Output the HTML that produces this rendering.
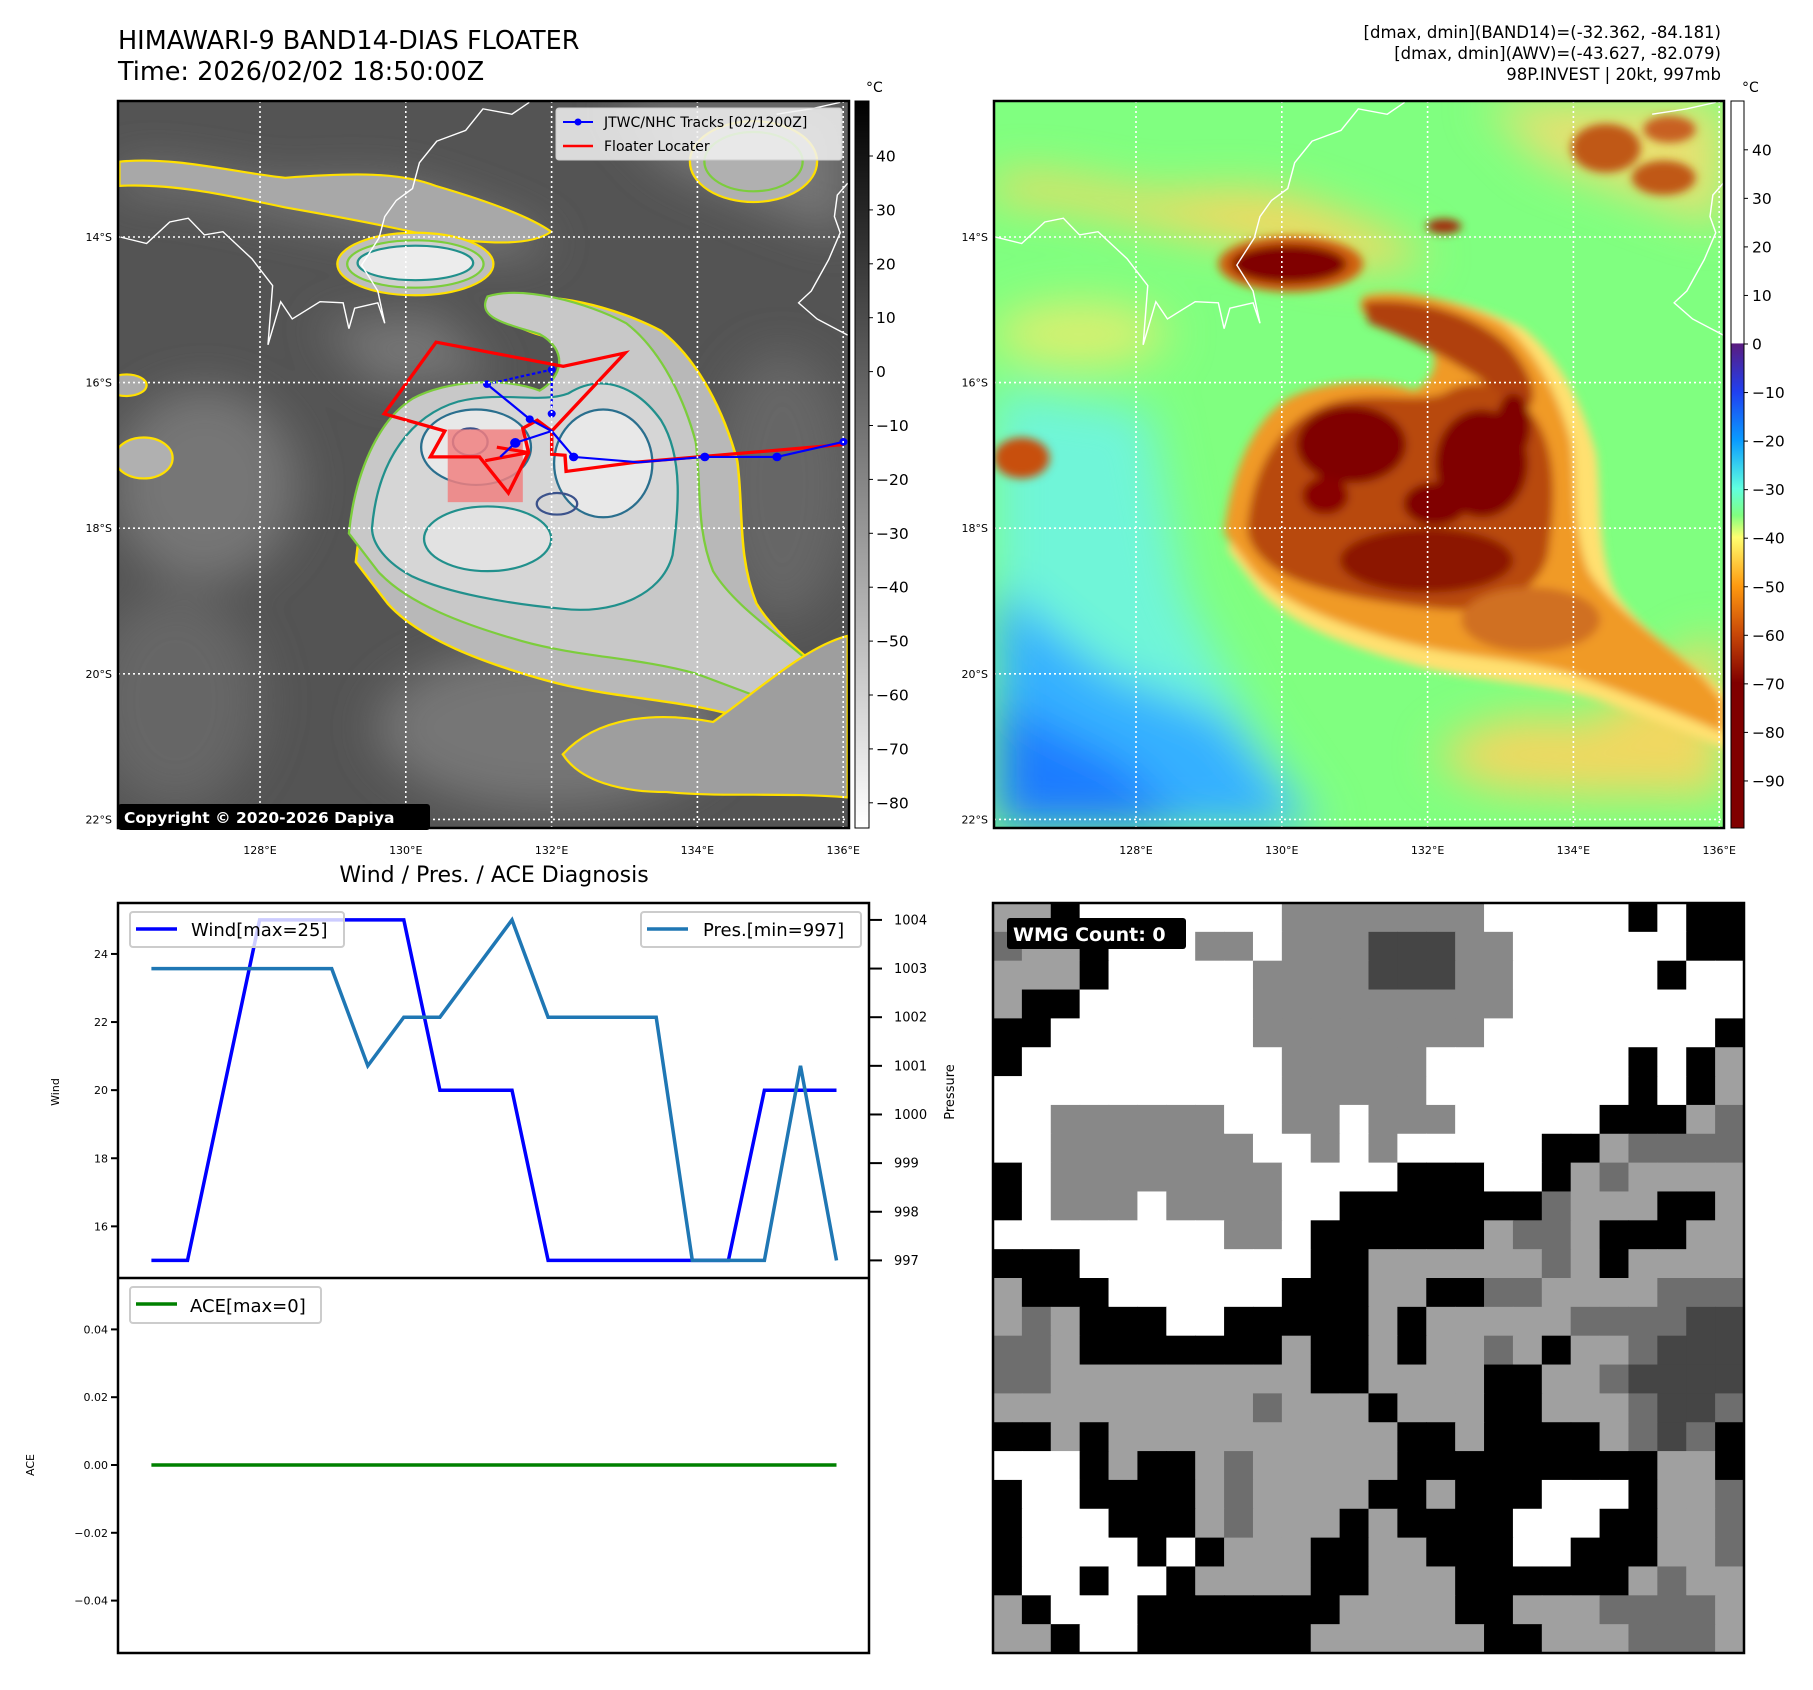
<!DOCTYPE html>
<html><head><meta charset="utf-8"><style>
html,body{margin:0;padding:0;background:#fff;}
svg{display:block;font-family:"DejaVu Sans","Liberation Sans",sans-serif;}
</style></head><body>
<svg id="root" width="1813" height="1690" viewBox="0 0 1813 1690" xmlns="http://www.w3.org/2000/svg">
<defs>
<clipPath id="c1"><rect x="118" y="101" width="731" height="727"/></clipPath>
<clipPath id="c2"><rect x="994" y="101" width="730" height="727"/></clipPath>
<filter id="b8" x="-30%" y="-30%" width="160%" height="160%"><feGaussianBlur stdDeviation="8"/></filter>
<filter id="b20" x="-30%" y="-30%" width="160%" height="160%"><feGaussianBlur stdDeviation="22"/></filter>
<filter id="b40" x="-30%" y="-30%" width="160%" height="160%"><feGaussianBlur stdDeviation="40"/></filter>
<linearGradient id="g1" x1="0" y1="0" x2="0" y2="1"><stop offset="0" stop-color="#000"/><stop offset="1" stop-color="#fff"/></linearGradient>
<linearGradient id="g2" x1="0" y1="0" x2="0" y2="1">
<stop offset="0" stop-color="#fff"/><stop offset="0.333" stop-color="#fff"/><stop offset="0.334" stop-color="#5a1c80"/>
<stop offset="0.4" stop-color="#2040f0"/><stop offset="0.467" stop-color="#0a9cff"/><stop offset="0.533" stop-color="#60ffe0"/>
<stop offset="0.57" stop-color="#80ff80"/><stop offset="0.6" stop-color="#ffff70"/><stop offset="0.667" stop-color="#ff9a10"/>
<stop offset="0.733" stop-color="#c84808"/><stop offset="0.8" stop-color="#800000"/><stop offset="1" stop-color="#800000"/></linearGradient>
<path id="env" d="M550,990 C560,880 600,780 660,740 C720,705 820,700 880,725 C920,700 930,650 880,620 C820,600 770,590 790,550 C850,530 960,560 1030,600 C1090,650 1130,740 1150,820 C1160,900 1150,980 1180,1060 C1220,1130 1300,1180 1380,1260 L1413,1300 L1413,1360 C1350,1330 1250,1290 1150,1250 C1050,1220 950,1220 850,1190 C750,1160 650,1120 600,1060 Z"/>
<path id="inner" d="M590,980 C600,850 660,770 740,745 C820,725 880,750 930,730 C990,690 1050,720 1090,780 C1130,850 1120,950 1110,1030 C1090,1110 1000,1140 920,1130 C820,1120 720,1100 660,1070 C615,1045 590,1010 590,980 Z"/>
<path id="nwband" d="M153,300 C250,290 350,320 440,330 C560,320 640,320 700,345 C780,370 860,400 900,430 C860,460 780,450 700,440 C620,420 520,400 440,385 C330,360 240,340 153,345 Z"/>
<path id="seband" d="M920,1400 C980,1330 1080,1320 1180,1340 C1260,1280 1340,1200 1413,1180 L1413,1480 C1300,1470 1200,1480 1100,1470 C1020,1470 950,1450 920,1400 Z"/>
<path id="coast" d="M155,440 L200,452 L240,412 L272,405 L300,436 L332,430 L382,480 L418,530 L410,640 L432,560 L452,592 L500,560 L540,562 L550,610 L560,572 L600,562 L612,600 L600,540 L572,492 L602,442 L612,402 L632,372 L660,350 L672,302 L702,262 L752,242 L782,202 L832,212 L862,190 M1290,212 L1350,202 L1400,190 M1413,340 L1395,362 L1390,402 L1400,432 L1380,482 L1350,540 L1328,562 L1360,592 L1413,622"/>
</defs>

<text x="118" y="49" font-size="25.5">HIMAWARI-9 BAND14-DIAS FLOATER</text>
<text x="118" y="80" font-size="25.5">Time: 2026/02/02 18:50:00Z</text>
<g font-size="16.5" text-anchor="end">
<text x="1721" y="38">[dmax, dmin](BAND14)=(-32.362, -84.181)</text>
<text x="1721" y="59">[dmax, dmin](AWV)=(-43.627, -82.079)</text>
<text x="1721" y="80">98P.INVEST | 20kt, 997mb</text>
</g>

<!-- MAP 1 -->
<g clip-path="url(#c1)">
<rect x="118" y="101" width="731" height="727" fill="#545454"/>
<g transform="translate(31,0) scale(0.578,0.5388)">
<g filter="url(#b40)" fill="#767676">
<use href="#nwband" transform="translate(0,-20) scale(1,1.1)"/>
<path d="M1000,190 L1413,190 L1413,440 L1300,400 L1100,310 Z"/>
<ellipse cx="300" cy="900" rx="160" ry="180"/>
<ellipse cx="250" cy="1300" rx="150" ry="200" fill="#666"/>
<ellipse cx="900" cy="1350" rx="300" ry="150"/>
<ellipse cx="1300" cy="900" rx="120" ry="250" fill="#666"/>
<path d="M500,600 L700,580 L800,700 L600,720 Z"/>
</g>
<use href="#nwband" fill="#a8a8a8" stroke="#ffe000" stroke-width="4"/>
<use href="#env" transform="translate(430,460) scale(1.1) translate(-430,-460)" fill="#b8b8b8" stroke="#ffe000" stroke-width="4"/>
<use href="#env" fill="#c8c8c8" stroke="#7ccd3c" stroke-width="4"/>
<use href="#seband" fill="#9e9e9e" stroke="#ffe000" stroke-width="4"/>
<use href="#inner" fill="#d6d6d6" stroke="#21908c" stroke-width="4"/>
<ellipse cx="770" cy="830" rx="95" ry="70" fill="#e8e8e8" stroke="#2a6f8e" stroke-width="4"/>
<ellipse cx="990" cy="860" rx="85" ry="100" fill="#e8e8e8" stroke="#2a6f8e" stroke-width="4"/>
<ellipse cx="790" cy="1000" rx="110" ry="60" fill="#e2e2e2" stroke="#21908c" stroke-width="4"/>
<ellipse cx="760" cy="820" rx="30" ry="25" fill="none" stroke="#3b528b" stroke-width="4"/>
<ellipse cx="910" cy="935" rx="35" ry="20" fill="none" stroke="#3b528b" stroke-width="4"/>
<ellipse cx="665" cy="490" rx="135" ry="58" fill="#bdbdbd" stroke="#ffe000" stroke-width="4"/>
<ellipse cx="665" cy="490" rx="118" ry="44" fill="#d0d0d0" stroke="#7ccd3c" stroke-width="4"/>
<ellipse cx="665" cy="488" rx="100" ry="32" fill="#ececec" stroke="#21908c" stroke-width="4"/>
<ellipse cx="1250" cy="300" rx="110" ry="75" fill="#b0b0b0" stroke="#ffe000" stroke-width="4"/>
<ellipse cx="1250" cy="300" rx="85" ry="55" fill="none" stroke="#7ccd3c" stroke-width="4"/>
<ellipse cx="195" cy="850" rx="50" ry="38" fill="#b0b0b0" stroke="#ffe000" stroke-width="4"/>
<ellipse cx="165" cy="715" rx="35" ry="20" fill="#aaa" stroke="#ffe000" stroke-width="4"/>
<use href="#coast" fill="none" stroke="#fff" stroke-width="2.5"/>
</g>
</g>
<g transform="scale(0.5777,0.5388)" fill="none">
<rect x="775" y="797" width="130" height="135" fill="#f08080" opacity="0.85"/>
<polyline points="1460,825 1100,858 980,875 978,845 955,843 955,800 930,780 905,795 915,840 880,915 830,848 745,848 770,800 665,768 755,635 975,680 1082,655 955,800" stroke="#f00" stroke-width="6"/>
<polyline points="860,830 915,840 840,855" stroke="#f00" stroke-width="6"/>
<polyline points="1460,820 1345,848 1220,848 1105,858 993,848 955,800 892,822 866,848" stroke="#00f" stroke-width="4"/>
<polyline points="843,713 917,778 955,800" stroke="#00f" stroke-width="4"/>
<polyline points="843,713 955,686 955,768" stroke="#00f" stroke-width="4" stroke-dasharray="6 4"/>
<g fill="#00f">
<circle cx="843" cy="713" r="7"/><circle cx="955" cy="686" r="7"/><circle cx="955" cy="768" r="7"/><circle cx="917" cy="778" r="7"/>
<circle cx="892" cy="822" r="9"/><circle cx="993" cy="848" r="8"/><circle cx="1220" cy="848" r="8"/><circle cx="1345" cy="848" r="8"/><circle cx="1460" cy="820" r="7"/>
</g>
</g>
<g stroke="#fff" stroke-width="1.6" stroke-dasharray="2 3" id="grid1"></g>
<rect x="118" y="101" width="731" height="727" fill="none" stroke="#000" stroke-width="2.5"/>
<g>
<rect x="556" y="108" width="286" height="52" rx="3" fill="#f2f2f2" fill-opacity="0.85" stroke="#ccc"/>
<line x1="563" y1="122" x2="593" y2="122" stroke="#00f" stroke-width="2"/><circle cx="578" cy="122" r="3.5" fill="#00f"/>
<text x="604" y="127" font-size="14">JTWC/NHC Tracks [02/1200Z]</text>
<line x1="563" y1="146" x2="593" y2="146" stroke="#f00" stroke-width="2.5"/>
<text x="604" y="151" font-size="14">Floater Locater</text>
</g>
<g>
<rect x="118" y="804" width="312" height="26" rx="3" fill="#000"/>
<text x="124" y="823" font-size="15.5" font-weight="bold" fill="#fff">Copyright © 2020-2026 Dapiya</text>
</g>
<rect x="855" y="101" width="14" height="727" fill="url(#g1)" stroke="#000" stroke-width="1"/>
<text x="866" y="92" font-size="14">°C</text>
<g id="cb1ticks" font-size="15.5"></g>

<!-- MAP 2 -->
<g clip-path="url(#c2)">
<rect x="994" y="101" width="730" height="727" fill="#80ff80"/>
<g transform="translate(906,0) scale(0.5784,0.5388)">
<g filter="url(#b40)">
<path d="M153,720 L420,760 L480,1100 L600,1350 L720,1537 L153,1537 Z" fill="#6ff5d8"/>
<path d="M153,1080 L350,1250 L550,1330 L700,1537 L153,1537 Z" fill="#35b0ff"/>
<path d="M153,1300 L380,1420 L480,1537 L153,1537 Z" fill="#1a7cff"/>
<use href="#nwband" fill="#f4d860" transform="translate(0,-20) scale(1,1.15)"/>
<path d="M1000,190 L1413,190 L1413,420 L1300,380 L1100,300 Z" fill="#e8e070"/>
<use href="#seband" fill="#f0d860"/>
<ellipse cx="300" cy="620" rx="150" ry="60" fill="#d8f070"/>
</g>
<g filter="url(#b8)">
<use href="#env" transform="translate(430,460) scale(1.06) translate(-430,-460)" fill="#ffe070"/>
<use href="#env" fill="#f09a28"/>
<use href="#inner" fill="#b84a10"/>
<path d="M790,560 C880,550 980,580 1040,640 C1090,700 1100,760 1060,760 C1000,700 900,640 800,600 Z" fill="#b04010"/>
<ellipse cx="1080" cy="1150" rx="120" ry="60" fill="#d07020"/>
<ellipse cx="900" cy="1040" rx="150" ry="60" fill="#8c1800"/>
<ellipse cx="770" cy="825" rx="95" ry="72" fill="#800000"/>
<ellipse cx="995" cy="860" rx="80" ry="100" fill="#800000"/>
<ellipse cx="1050" cy="790" rx="30" ry="60" fill="#800000"/>
<ellipse cx="915" cy="935" rx="55" ry="40" fill="#800000"/>
<ellipse cx="725" cy="920" rx="40" ry="35" fill="#880000"/>
<ellipse cx="665" cy="490" rx="125" ry="52" fill="#d06010"/>
<ellipse cx="662" cy="490" rx="100" ry="36" fill="#800000"/>
<ellipse cx="1210" cy="275" rx="60" ry="45" fill="#c05818"/>
<ellipse cx="1310" cy="330" rx="55" ry="32" fill="#c05818"/>
<ellipse cx="1320" cy="240" rx="45" ry="25" fill="#c86020"/>
<ellipse cx="930" cy="420" rx="30" ry="14" fill="#a03008"/>
<ellipse cx="200" cy="850" rx="48" ry="38" fill="#c85010"/>
</g>
<use href="#coast" fill="none" stroke="#fff" stroke-width="2.5"/>
</g>
</g>
<g stroke="#fff" stroke-width="1.6" stroke-dasharray="2 3" id="grid2"></g>
<rect x="994" y="101" width="730" height="727" fill="none" stroke="#000" stroke-width="2.5"/>
<rect x="1731" y="101" width="13" height="727" fill="url(#g2)" stroke="#000" stroke-width="1"/>
<text x="1742" y="92" font-size="14">°C</text>
<g id="cb2ticks" font-size="15.5"></g>
<g id="latlon" font-size="11"></g>

<text x="494" y="882" font-size="22" text-anchor="middle">Wind / Pres. / ACE Diagnosis</text>
<rect x="118" y="903" width="751" height="750" fill="#fff" stroke="#000" stroke-width="2.5"/>
<line x1="118" y1="1278" x2="869" y2="1278" stroke="#000" stroke-width="2.5"/>
<g id="chart"></g>
<text transform="translate(59,1092) rotate(-90)" font-size="11" text-anchor="middle">Wind</text>
<text transform="translate(954,1092) rotate(-90)" font-size="13" text-anchor="middle">Pressure</text>
<text transform="translate(34,1465) rotate(-90)" font-size="11" text-anchor="middle">ACE</text>
<g>
<rect x="130" y="912" width="214" height="35" rx="3" fill="#fff" fill-opacity="0.8" stroke="#ccc" stroke-width="2"/>
<line x1="136" y1="929" x2="177" y2="929" stroke="#00f" stroke-width="3.5"/>
<text x="191" y="936" font-size="18">Wind[max=25]</text>
</g>
<g>
<rect x="641" y="912" width="220" height="35" rx="3" fill="#fff" fill-opacity="0.8" stroke="#ccc" stroke-width="2"/>
<line x1="647" y1="929" x2="688" y2="929" stroke="#1f77b4" stroke-width="3.5"/>
<text x="703" y="936" font-size="18">Pres.[min=997]</text>
</g>
<g>
<rect x="130" y="1287" width="191" height="36" rx="3" fill="#fff" fill-opacity="0.8" stroke="#ccc" stroke-width="2"/>
<line x1="136" y1="1304" x2="177" y2="1304" stroke="#008000" stroke-width="3.5"/>
<text x="190" y="1312" font-size="18">ACE[max=0]</text>
</g>

<g id="wmg"></g>
<rect x="993" y="903" width="751" height="750" fill="none" stroke="#000" stroke-width="2.5"/>
<g>
<rect x="1007" y="918" width="179" height="31" rx="3" fill="#000"/>
<text x="1013" y="941" font-size="19" font-weight="bold" fill="#fff">WMG Count: 0</text>
</g>
</svg>
<script>
const NS="http://www.w3.org/2000/svg";
const timeIdx=[0,1,2,3,4,5,6,7,8,9,10,11,12,13,14,15,16,17,18,19];
const windVals=[15,15,20,25,25,25,25,25,20,20,20,15,15,15,15,15,15,20,20,20];
const presVals=[1003,1003,1003,1003,1003,1003,1001,1002,1002,1003,1004,1002,1002,1002,1002,997,997,997,1001,997];
const aceVals=[0,0,0,0,0,0,0,0,0,0,0,0,0,0,0,0,0,0,0,0];
const windTicks=[16,18,20,22,24];
const presTicks=[997,998,999,1000,1001,1002,1003,1004];
const aceTicks=[-0.04,-0.02,0.00,0.02,0.04];
const lonTicks=[128,130,132,134,136];
const latTicks=[14,16,18,20,22];
const cb1Ticks=[40,30,20,10,0,-10,-20,-30,-40,-50,-60,-70,-80];
const cb2Ticks=[40,30,20,10,0,-10,-20,-30,-40,-50,-60,-70,-80,-90];
const wmgRows=[
"LLBWWWWWWWMMMMMMMWWWWWBWBB","DLLBWWWMMWMMMKKKMMWWWWWWBB","LLLBWWWWWMMMMKKKMMWWWWWBWW","LBBWWWWWWMMMMMMMMMWWWWWWWW",
"BBWWWWWWWMMMMMMMMWWWWWWWWB","BWWWWWWWWWMMMMMWWWWWWWBWBL","WWWWWWWWWWMMMMMWWWWWWWBWBL","WWMMMMMMWWMMWMMMWWWWWBBBLD",
"WWMMMMMMMWWMWMWWWWWBBLDDDD","BWMMMMMMMMWWWWBBBWWBLDLLLL","BWMMMWMMMMWWBBBBBBBDLLLBBL","WWWWWWWWMMWBBBBBBLDDLBBBLL",
"BBBWWWWWWWWBBLLLLLLDLBLLLL","LBBBWWWWWWBBBLLBBDDLLLLDDD","LDLBBBWWBBBBBLBLLLLLDDDDKK","DDLBBBBBBBLBBLBLLDLBLLDKKK",
"DDLLLLLLLLLBBLLLLBBLLDKKKK","LLLLLLLLLDLLLBLLLBBLLLDKKD","BBLBLLLLLLLLLLBBLBBBBLDKDB","WWWBLBBLDLLLLLBBBBBBBBBLLB",
"BWWBBBBLDLLLLBBLBBBWWWBLLD","BWWWBBBLDLLLBLBBBBWWWBBLLD","BWWWWBWBLLLBBLLBBBWWBBBLLD","BWWBWWBLLLLBBLLLBBBBBBLDLL",
"LBWWWBBBBBBBLLLLBBLLLDDDDL","LLBWWBBBBBBLLLLLLBBLLLDDDL"];
const wmgColors={W:"#ffffff",B:"#000000",L:"#a0a0a0",M:"#888888",D:"#6e6e6e",K:"#454545"};

function mk(tag,attrs,parent){const e=document.createElementNS(NS,tag);for(const k in attrs)e.setAttribute(k,attrs[k]);parent.appendChild(e);return e;}
const xT=i=>151.4+i*36.06;
const yW=v=>1260.4-(v-15)*34.05;
const yP=v=>1260.4-(v-997)*48.64;
const yA=v=>1465-v*3390;
const lonX=(lon,x0)=>x0+(lon-128)*72.9;
const latY=lat=>237+(lat-14)*72.8;
const cb1Y=v=>156+(40-v)*5.39;
const cb2Y=v=>344-v*4.855;

const chart=document.getElementById('chart');
function line(vals,yf,color,name){
  const p=mk('polyline',{points:timeIdx.map(i=>xT(i).toFixed(1)+','+yf(vals[i]).toFixed(1)).join(' '),fill:'none',stroke:color,'stroke-width':3.5,'stroke-linejoin':'miter'},chart);
  
  
}
line(windVals,yW,'#0000ff','wind-line');
line(presVals,yP,'#1f77b4','pressure-line');
line(aceVals,yA,'#008000','ace-line');
windTicks.forEach(v=>{const y=yW(v);mk('line',{x1:111,x2:118,y1:y,y2:y,stroke:'#000','stroke-width':2},chart);
  const t=mk('text',{x:108,y:y+4,'font-size':11,'text-anchor':'end'},chart);t.textContent=v;
  
  });
presTicks.forEach(v=>{const y=yP(v);mk('line',{x1:869,x2:882,y1:y,y2:y,stroke:'#000','stroke-width':2},chart);
  const t=mk('text',{x:894,y:y+4.5,'font-size':13},chart);t.textContent=v;
  
  });
aceTicks.forEach(v=>{const y=yA(v);mk('line',{x1:111,x2:118,y1:y,y2:y,stroke:'#000','stroke-width':2},chart);
  const t=mk('text',{x:108,y:y+4,'font-size':11,'text-anchor':'end'},chart);t.textContent=(v<0?'\u2212':'')+Math.abs(v).toFixed(2);
  
  });

const g1=document.getElementById('grid1'),g2=document.getElementById('grid2'),ll=document.getElementById('latlon');
[[g1,118,849,118],[g2,994,1724,994]].forEach(([g,x0,x1,base])=>{
  lonTicks.forEach(lon=>{const x=lonX(lon,base+142);mk('line',{x1:x,x2:x,y1:101,y2:828},g);
    const t=mk('text',{x:x,y:854,'text-anchor':'middle'},ll);t.textContent=lon+'°E';
    
    });
  latTicks.forEach(lat=>{const y=latY(lat);mk('line',{x1:x0,x2:x1,y1:y,y2:y},g);
    const t=mk('text',{x:x0-6,y:y+4,'text-anchor':'end'},ll);t.textContent=lat+'°S';
    
    });
});
const c1=document.getElementById('cb1ticks');
cb1Ticks.forEach(v=>{const y=cb1Y(v);mk('line',{x1:869,x2:873,y1:y,y2:y,stroke:'#000'},c1);
  const t=mk('text',{x:876,y:y+5.5},c1);t.textContent=(v<0?'\u2212':'')+Math.abs(v);
  
  });
const c2=document.getElementById('cb2ticks');
cb2Ticks.forEach(v=>{const y=cb2Y(v);mk('line',{x1:1744,x2:1748,y1:y,y2:y,stroke:'#000'},c2);
  const t=mk('text',{x:1752,y:y+5.5},c2);t.textContent=(v<0?'\u2212':'')+Math.abs(v);
  
  });

const wm=document.getElementById('wmg');
const cw=751/26,ch=750/26;
wmgRows.forEach((row,r)=>{for(let c=0;c<row.length;c++){
  const e=mk('rect',{x:(993+c*cw).toFixed(2),y:(903+r*ch).toFixed(2),width:(cw+0.6).toFixed(2),height:(ch+0.6).toFixed(2),fill:wmgColors[row[c]]},wm);
  
  
}});
</script>
</body></html>
